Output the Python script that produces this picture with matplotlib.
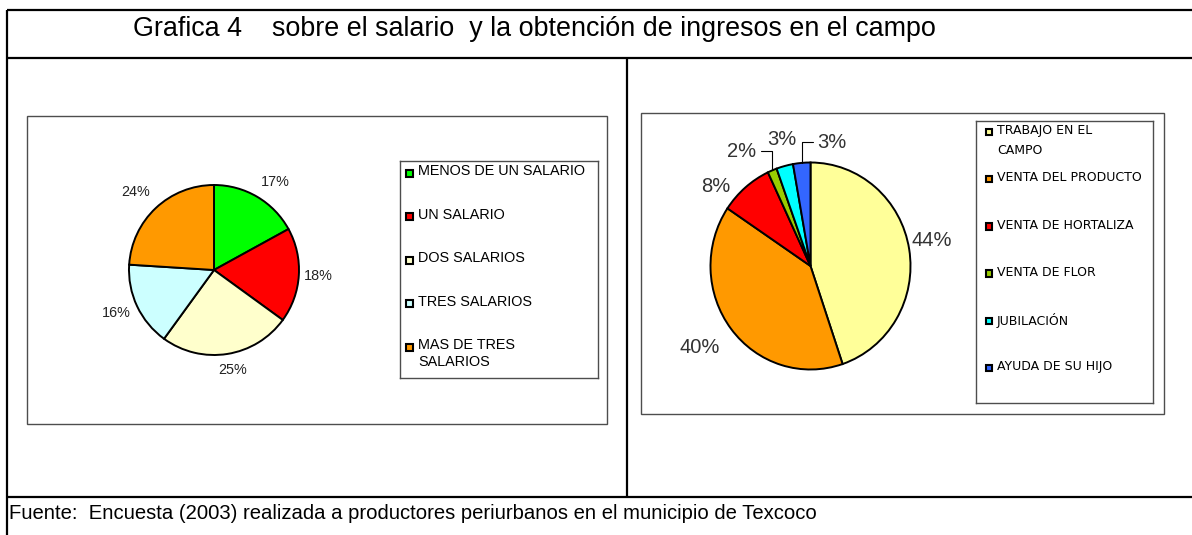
import numpy as np
import matplotlib
matplotlib.use("Agg")
import matplotlib.pyplot as plt
from matplotlib.patches import Rectangle

# data
sal_labels = ["MENOS DE UN SALARIO", "UN SALARIO", "DOS SALARIOS", "TRES SALARIOS",
              "MAS DE TRES\nSALARIOS"]
sal_values = [17, 18, 25, 16, 24]
sal_pct = ["17%", "18%", "25%", "16%", "24%"]
sal_colors = ["#00ff00", "#ff0000", "#ffffcc", "#ccffff", "#ff9900"]

ing_labels = ["TRABAJO EN EL\nCAMPO", "VENTA DEL PRODUCTO", "VENTA DE HORTALIZA",
              "VENTA DE FLOR", "JUBILACIÓN", "AYUDA DE SU HIJO"]
ing_values = [44.8, 39.6, 8.6, 1.5, 2.7, 2.8]   # slice sizes as measured
ing_pct = ["44%", "40%", "8%", "2%", "3%", "3%"]
ing_colors = ["#ffff99", "#ff9900", "#ff0000", "#99cc00", "#00ffff", "#3366ff"]

title = "Grafica 4    sobre el salario  y la obtención de ingresos en el campo"
source = "Fuente:  Encuesta (2003) realizada a productores periurbanos en el municipio de Texcoco"

W, H = 1192, 535
fig = plt.figure(figsize=(W / 100, H / 100), dpi=100)
plt.rcParams["font.family"] = ["Liberation Sans", "DejaVu Sans"]


def fx(x):
    return x / W


def fy(y):
    return 1 - y / H


def hline(y, x0, x1, **kw):
    fig.add_artist(plt.Line2D([fx(x0), fx(x1)], [fy(y), fy(y)], transform=fig.transFigure, **kw))


def vline(x, y0, y1, **kw):
    fig.add_artist(plt.Line2D([fx(x), fx(x)], [fy(y0), fy(y1)], transform=fig.transFigure, **kw))


def box(x0, y0, x1, y1, **kw):
    fig.add_artist(Rectangle((fx(x0), fy(y1)), (x1 - x0) / W, (y1 - y0) / H,
                             transform=fig.transFigure, fill=False, **kw))


# table frame
frame = dict(color="black", lw=1.6, solid_capstyle="butt")
hline(10, 7, W, **frame)
hline(58, 7, W, **frame)
hline(497, 7, W, **frame)
vline(7, 10, H, **frame)
vline(627, 58, 497, **frame)

fig.text(fx(133), fy(36), title, fontsize=19.4, va="baseline", ha="left")
fig.text(fx(9), fy(519), source, fontsize=14.55, va="baseline", ha="left")

# inner chart boxes
box(27, 116, 607, 424, ec="#4d4d4d", lw=1.0)
box(641, 113, 1164, 414, ec="#4d4d4d", lw=1.0)


def pie_axes(cx, cy, rx, ry):
    return fig.add_axes([fx(cx - rx), fy(cy + ry), 2 * rx / W, 2 * ry / H])


def mid_angles(wedges):
    return [np.deg2rad((w.theta1 + w.theta2) / 2) for w in wedges]


# left pie
ax1 = pie_axes(214, 270, 85, 85)
w1, _ = ax1.pie(sal_values, colors=sal_colors, startangle=90, counterclock=False,
                wedgeprops=dict(edgecolor="black", linewidth=1.4))
ax1.set_aspect("auto")
ax1.set_xlim(-1, 1)
ax1.set_ylim(-1, 1)
shift1 = [-4, 0.3, 1.8, -1.5, 1.8]
dist1 = [1.26, 1.225, 1.2, 1.26, 1.30]
for a, s, d, t in zip(mid_angles(w1), shift1, dist1, sal_pct):
    a = a + np.deg2rad(s)
    ax1.text(d * np.cos(a), d * np.sin(a), t, ha="center", va="center",
             fontsize=10.4, color="#222222", clip_on=False)

# right pie
ax2 = pie_axes(810.5, 266, 100, 103.5)
w2, _ = ax2.pie(ing_values, colors=ing_colors, startangle=90, counterclock=False,
                wedgeprops=dict(edgecolor="black", linewidth=1.4))
ax2.set_aspect("auto")
ax2.set_xlim(-1, 1)
ax2.set_ylim(-1, 1)
shift2 = [2.2, -2.3, 10.2, 3.4, -1.6, -8.3]
dist2 = [1.235, 1.36, 1.224, 1.234, 1.254, 1.2]
align2 = ["center", "center", "center", "right", "center", "left"]
mids2 = mid_angles(w2)
for i, (a, s, d, t, ha) in enumerate(zip(mids2, shift2, dist2, ing_pct, align2)):
    b = a + np.deg2rad(s)
    tx, ty = d * np.cos(b), d * np.sin(b)
    if ha == "center":
        ax2.text(tx, ty, t, ha=ha, va="center", fontsize=14.5, color="#333333", clip_on=False)
    else:
        ax2.annotate(t, xy=(np.cos(a), np.sin(a)), xytext=(tx, ty), ha=ha, va="center",
                     fontsize=14.5, color="#333333", annotation_clip=False,
                     arrowprops=dict(arrowstyle="-", lw=0.8, color="black",
                                     connectionstyle="angle,angleA=0,angleB=90,rad=0",
                                     shrinkA=1, shrinkB=0))


def legend_box(x0, y0, x1, y1, labels, colors, first, step, msize, tx, fsize, family, lsp):
    lax = fig.add_axes([fx(x0), fy(y1), (x1 - x0) / W, (y1 - y0) / H])
    lax.set_xlim(0, x1 - x0)
    lax.set_ylim(y1 - y0, 0)
    lax.set_xticks([])
    lax.set_yticks([])
    for sp in lax.spines.values():
        sp.set_edgecolor("#4d4d4d")
        sp.set_linewidth(1.0)
    for i, (lab, col) in enumerate(zip(labels, colors)):
        y = first + i * step
        lax.add_patch(Rectangle((tx - msize - 5, y - msize / 2), msize, msize,
                                facecolor=col, edgecolor="black", lw=1.5))
        lax.text(tx, y - 0.62 * fsize * 100 / 72, lab, ha="left", va="top",
                 fontsize=fsize, family=family, linespacing=lsp)
    return lax


legend_box(400, 161, 598, 378, sal_labels, sal_colors, 12, 43.5, 7, 18, 10.4,
           ["Liberation Sans", "DejaVu Sans"], 1.25)
legend_box(976, 121, 1153, 403, ing_labels, ing_colors, 11, 47.2, 6.5, 21, 9.0,
           ["DejaVu Sans"], 1.65)

fig.savefig("out.png", dpi=100)
